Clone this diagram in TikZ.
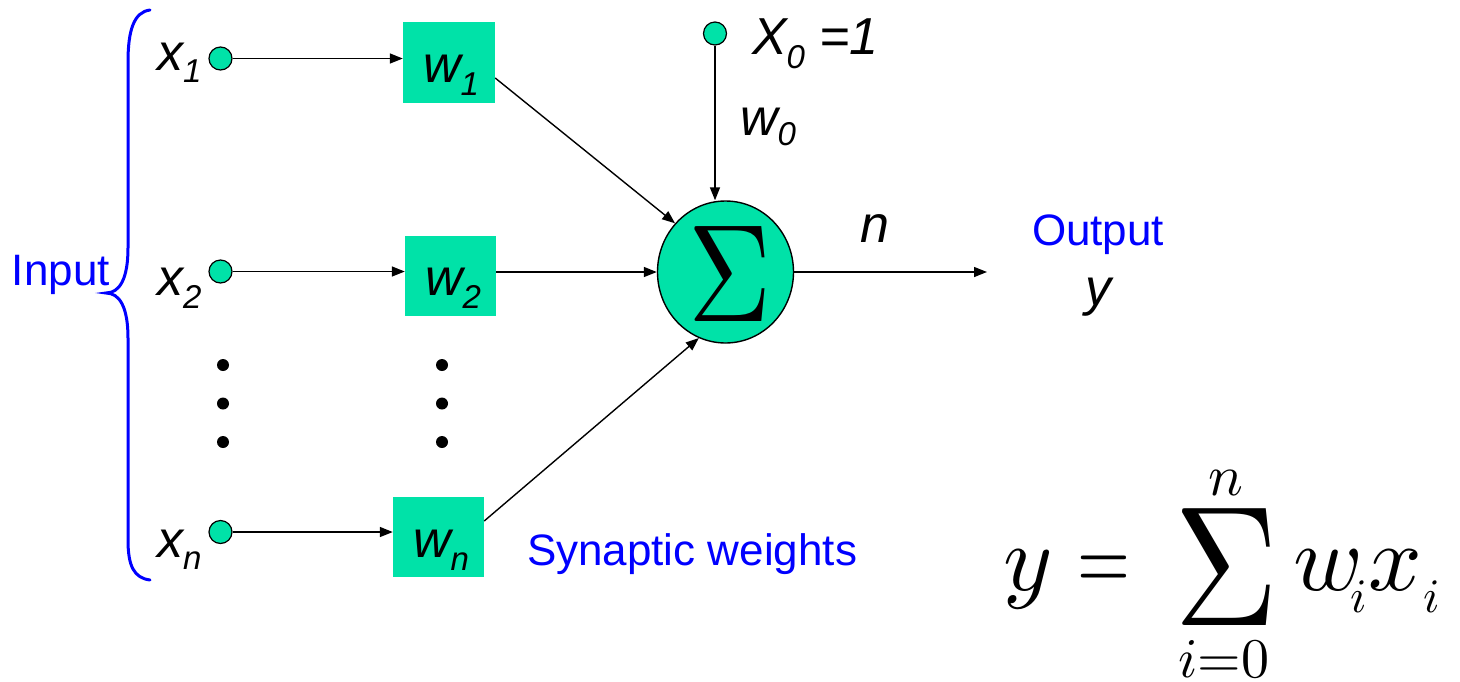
\documentclass[tikz,border=0pt]{standalone}
\usepackage{fontspec}
\setmainfont{Liberation Sans}
\usetikzlibrary{arrows.meta,shapes.geometric}
\definecolor{teal1}{RGB}{0,226,168}
\definecolor{blue1}{RGB}{0,0,255}
\newcommand\mysub[2]{\raisebox{-#1pt}{\fontsize{33}{33}\selectfont #2}}
\newcommand\fs[1]{\fontsize{#1}{#1}\selectfont}
\tikzset{
  lbl/.style={anchor=base west,inner sep=0pt,outer sep=0pt},
  inpt/.style={circle,draw=black,line width=1.2pt,fill=teal1,minimum size=23pt,inner sep=0pt},
  wbox/.style={rectangle,fill=teal1,minimum width=91pt,minimum height=80pt,inner sep=0pt},
  arr/.style={line width=1.4pt,-{Triangle[length=13pt,width=10pt]}},
  ddot/.style={circle,fill=black,minimum size=12pt,inner sep=0pt},
  brace/.style={blue1,line width=3pt,line cap=round},
  bluetxt/.style={lbl,text=blue1,font=\fs{44}}
}
\begin{document}
\begin{tikzpicture}[x=1pt,y=-1pt]
\useasboundingbox (0,0) rectangle (1460,681);
% brace
\draw[brace] (150,10) .. controls (134,12) and (128,30) .. (128,62) -- (128,248)
  .. controls (128,278) and (120,293) .. (106,293)
  .. controls (120,293) and (128,308) .. (128,338) -- (128,540)
  .. controls (128,566) and (134,578) .. (150,580);
\node[bluetxt] (input) at (12,285) {Input};
% input circles
\node[inpt] (c1) at (220.5,58.5) {};
\node[inpt] (c2) at (220.5,271.5) {};
\node[inpt] (cn) at (220.5,532) {};
\node[inpt] (c0) at (715,33.5) {};
% labels x
\node[lbl] (x1lab) at (157,70) {\fs{52}\itshape x\mysub{12}{1}};
\node[lbl] (x2lab) at (157,295) {\fs{52}\itshape x\mysub{13}{2}};
\node[lbl] (xnlab) at (157,557) {\fs{52}\itshape x\mysub{12}{n}};
% weight boxes
\node[wbox,minimum width=92pt,minimum height=81pt] (w1) at (449,62.5) {};
\node[wbox] (w2) at (450.5,276) {};
\node[wbox] (wn) at (438.5,537) {};
\node[lbl] (w1lab) at (423,82) {\fs{52}\itshape w\mysub{13}{1}};
\node[lbl] (w2lab) at (425,295) {\fs{52}\itshape w\mysub{13}{2}};
\node[lbl] (wnlab) at (413,557) {\fs{52}\itshape w\mysub{13}{n}};
% dots
\node[ddot] (d1) at (223,365) {};
\node[ddot] (d2) at (223,403.5) {};
\node[ddot] (d3) at (223,442) {};
\node[ddot] (e1) at (442,365) {};
\node[ddot] (e2) at (442,403.5) {};
\node[ddot] (e3) at (442,442) {};
% summation node
\node[ellipse,draw=black,line width=1.4pt,fill=teal1,minimum width=136pt,minimum height=142pt,inner sep=0pt] (sig) at (725.5,272) {};
\node[inner sep=0pt] (sigsym) at (730,274) {\scalebox{11.5}[13.9]{$\Sigma$}};
% bias
\node[lbl] (x0lab) at (752,54) {\fs{52}\itshape X\mysub{14}{0} =1};
\node[lbl] (w0lab) at (740,135) {\fs{52}\itshape w\mysub{10}{0}};
% connectors
\draw[arr] (c1) -- (c1 -| w1.west);
\draw[arr] (c2) -- (c2 -| w2.west);
\draw[arr] (cn) -- (cn -| wn.west);
\draw[arr] ([yshift=-15.5pt]w1.east) -- (sig.136);
\draw[arr] (w2.east |- sig.west) -- (sig.west);
\draw[arr] ([yshift=16pt]wn.east) -- (sig.248);
\draw[arr] (c0) -- (c0 |- sig.north);
\coordinate (outend) at (987,272);
\draw[arr] (sig.east) -- (outend);
% output
\node[lbl] (nlab) at (860,242) {\fs{52}\itshape n};
\node[bluetxt] (output) at (1032,245) {Output};
\node[lbl] (ylab) at (1085,305) {\fs{52}\itshape y};
\node[bluetxt] (syn) at (527,565) {Synaptic weights};
% formula
\node[lbl] (fy) at (1003,590) {\scalebox{9.4}{$y$}};
\node[lbl] (feq) at (1077,590) {\scalebox{6.8}[9.4]{$=$}};
\node[anchor=base,inner sep=0pt] (fsum) at (1226.5,625) {\scalebox{14.4}[17.1]{$\Sigma$}};
\node[anchor=base,inner sep=0pt] (fn) at (1225.5,495) {\scalebox{5.8}{$n$}};
\node[anchor=base,inner sep=0pt] (fi0) at (1224,677) {\scalebox{5.6}{$i{=}0$}};
\node[lbl] (fw) at (1293,590) {\scalebox{9.4}{$w$}};
\node[lbl] (fwi) at (1350,612) {\scalebox{4.8}{$i$}};
\node[lbl] (fx) at (1368,590) {\scalebox{9.4}{$x$}};
\node[lbl] (fxi) at (1423,612) {\scalebox{4.8}{$i$}};
\end{tikzpicture}
\end{document}
